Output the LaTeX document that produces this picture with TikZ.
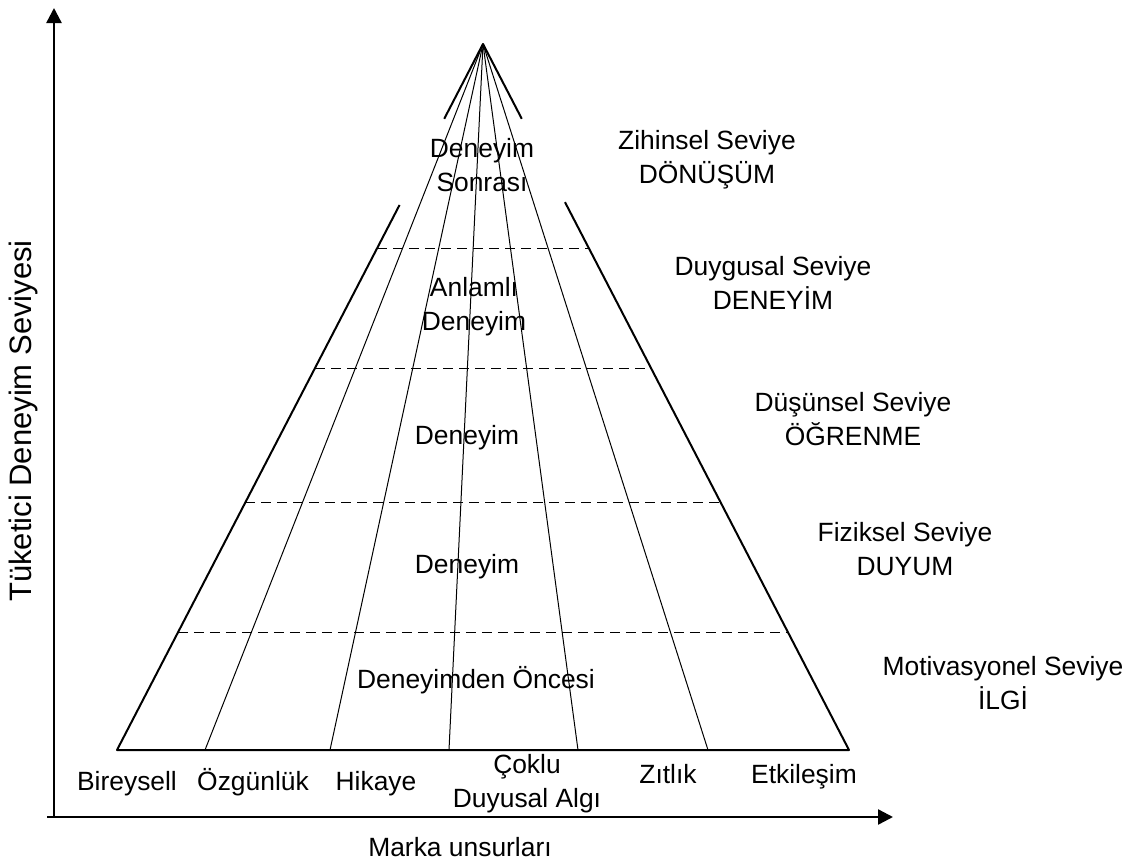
\documentclass[tikz,border=0pt]{standalone}
\usepackage{fontspec}
\setmainfont{Liberation Sans}
\usetikzlibrary{arrows.meta,calc}
\begin{document}
\begin{tikzpicture}[x=0.5pt, y=-0.5pt, font=\fontsize{13.2}{17}\selectfont, line join=round, >={Triangle[length=7.5pt,width=7.5pt]},
		side/.style={line width=1pt},
		fan/.style={line width=0.5pt},
		level/.style={dashed, line width=0.5pt, dash pattern=on 5pt off 3pt},
		axis/.style={->, line width=1.2pt},
		lbl/.style={align=center, inner sep=0pt}]
			\useasboundingbox (0,0) rectangle (1142,862);
			% axes
			\coordinate (o) at (54,817);
			\coordinate (ytip) at (54,8);
			\coordinate (xtip) at (893,817);
			\draw[axis] (o)--(ytip);
			\draw[axis] (47,817)--(xtip);
			% pyramid
			\coordinate (apex) at (483,44);
			\coordinate (bl) at (117,750);
			\coordinate (br) at (849,750);
			\draw[side] ($(apex)!0.106!(bl)$)--(apex)--($(apex)!0.106!(br)$);
			\draw[side] ($(apex)!0.228!(bl)$)--(bl)--(br)--($(apex)!0.224!(br)$);
			\foreach \x [count=\i] in {205,330,449,578,708}{
				\coordinate (f\i) at (\x,750);
				\draw[fan] (apex)--(f\i);
			}
			\foreach \t in {0.289,0.459,0.649,0.834}
				\draw[level] ($(apex)!\t!(bl)$)--($(apex)!\t!(br)$);
			% inner labels
			\node[lbl] (sonra) at (482,165) {Deneyim\\Sonrası};
			\node[lbl] (anlam) at (474,307) {Anlamlı\\Deneyim};
			\node[lbl] (dene1) at (467,438) {Deneyim};
			\node[lbl] (dene2) at (467,567) {Deneyim};
			\node[lbl] (once) at (476,680) {Deneyimden Öncesi};
			% levels
			\node[lbl] (zihin) at (707,160) {Zihinsel Seviye\\DÖNÜŞÜM};
			\node[lbl] (duygu) at (773,283) {Duygusal Seviye\\DENEYİM};
			\node[lbl] (dusun) at (853,419) {Düşünsel Seviye\\ÖĞRENME};
			\node[lbl] (fizik) at (905,549) {Fiziksel Seviye\\DUYUM};
			\node[lbl] (motiv) at (1003,683) {Motivasyonel Seviye\\İLGİ};
			% brand elements
			\node[lbl, anchor=base] (birey) at (127,790) {Bireysell};
			\node[lbl, anchor=base] (ozgun) at (253,790) {Özgünlük};
			\node[lbl, anchor=base] (hikaye) at (376,790) {Hikaye};
			\node[lbl] (coklu) at (527,784) {Çoklu\\Duyusal Algı};
			\node[lbl, anchor=base] (zitlik) at (668,783) {Zıtlık};
			\node[lbl, anchor=base] (etki) at (804,783) {Etkileşim};
			% axis titles
			\node[lbl, rotate=90, anchor=base, font=\fontsize{15.5}{18}\selectfont] (ytitle) at (32,421) {Tüketici Deneyim Seviyesi};
			\node[lbl] (xtitle) at (460,847) {Marka unsurları};
		\end{tikzpicture}
\end{document}
